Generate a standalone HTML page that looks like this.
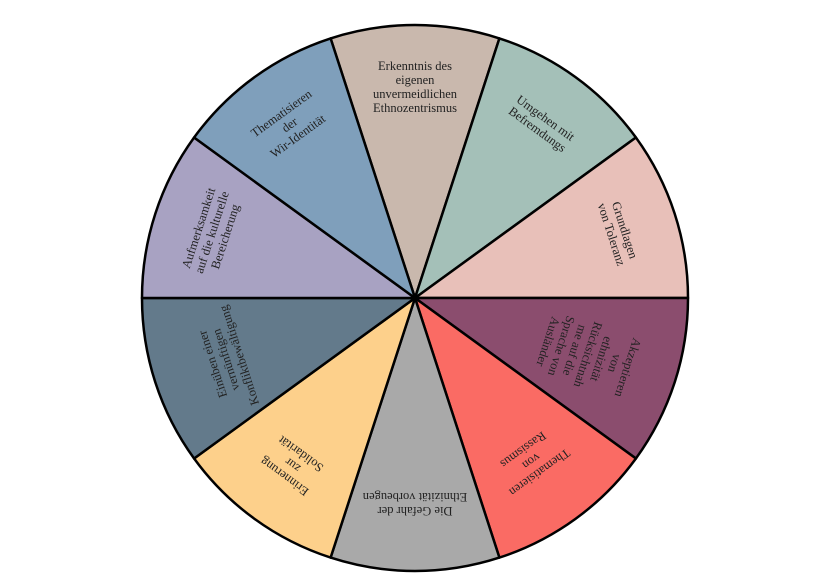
<!DOCTYPE html>
<html><head><meta charset="utf-8"><style>
html,body{margin:0;padding:0;background:#fff;}
svg{display:block;}
text{font-family:"Liberation Serif",serif;font-size:12.5px;fill:#222;text-anchor:middle;}
</style></head><body>
<svg width="828" height="586" viewBox="0 0 828 586" xmlns="http://www.w3.org/2000/svg">
<g stroke="#000" stroke-width="2.5" stroke-linejoin="round">
<path d="M415,298 L330.6,38.4 A273,273 0 0 1 499.4,38.4 Z" fill="#c9b8ad"/>
<path d="M415,298 L499.4,38.4 A273,273 0 0 1 635.9,137.5 Z" fill="#a4c0b8"/>
<path d="M415,298 L635.9,137.5 A273,273 0 0 1 688,298 Z" fill="#e8c0b9"/>
<path d="M415,298 L688,298 A273,273 0 0 1 635.9,458.5 Z" fill="#8b4d6e"/>
<path d="M415,298 L635.9,458.5 A273,273 0 0 1 499.4,557.6 Z" fill="#fa6b64"/>
<path d="M415,298 L499.4,557.6 A273,273 0 0 1 330.6,557.6 Z" fill="#a9a9a9"/>
<path d="M415,298 L330.6,557.6 A273,273 0 0 1 194.1,458.5 Z" fill="#fdd08b"/>
<path d="M415,298 L194.1,458.5 A273,273 0 0 1 142,298 Z" fill="#637a8b"/>
<path d="M415,298 L142,298 A273,273 0 0 1 194.1,137.5 Z" fill="#a8a2c2"/>
<path d="M415,298 L194.1,137.5 A273,273 0 0 1 330.6,38.4 Z" fill="#7f9fbb"/>
</g>
<text transform="rotate(0 415 88)"><tspan x="415" y="70">Erkenntnis des</tspan><tspan x="415" y="84">eigenen</tspan><tspan x="415" y="98">unvermeidlichen</tspan><tspan x="415" y="112">Ethnozentrismus</tspan></text>
<text transform="rotate(36 542 123)"><tspan x="542" y="121">Umgehen mit</tspan><tspan x="542" y="135">Befremdungs</tspan></text>
<text transform="rotate(72 619 232)"><tspan x="619" y="230">Grundlagen</tspan><tspan x="619" y="244">von Toleranz</tspan></text>
<text transform="rotate(108 586 354)"><tspan x="586" y="314">Akzeptieren</tspan><tspan x="586" y="328">von</tspan><tspan x="586" y="342">ethnizität</tspan><tspan x="586" y="356">Rücksichtnah</tspan><tspan x="586" y="370">me auf die</tspan><tspan x="586" y="384">Sprache von</tspan><tspan x="586" y="398">Ausländer</tspan></text>
<text transform="rotate(144 532 462)"><tspan x="532" y="453">Thematisieren</tspan><tspan x="532" y="467">von</tspan><tspan x="532" y="481">Rassismus</tspan></text>
<text transform="rotate(180 415 505)"><tspan x="415" y="503">Die Gefahr der</tspan><tspan x="415" y="517">Ethnizität vorbeugen</tspan></text>
<text transform="rotate(216 292 466)"><tspan x="292" y="457">Erinnerung</tspan><tspan x="292" y="471">zur</tspan><tspan x="292" y="485">Solidarität</tspan></text>
<text transform="rotate(252 225 360)"><tspan x="225" y="351">Einüben einer</tspan><tspan x="225" y="365">vernünftigen</tspan><tspan x="225" y="379">Konfliktbewältigung</tspan></text>
<text transform="rotate(288 211 232)"><tspan x="211" y="223">Aufmerksamkeit</tspan><tspan x="211" y="237">auf die kulturelle</tspan><tspan x="211" y="251">Bereicherung</tspan></text>
<text transform="rotate(324 289 124)"><tspan x="289" y="115">Thematisieren</tspan><tspan x="289" y="129">der</tspan><tspan x="289" y="143">Wir-Identität</tspan></text>
</svg>
</body></html>
